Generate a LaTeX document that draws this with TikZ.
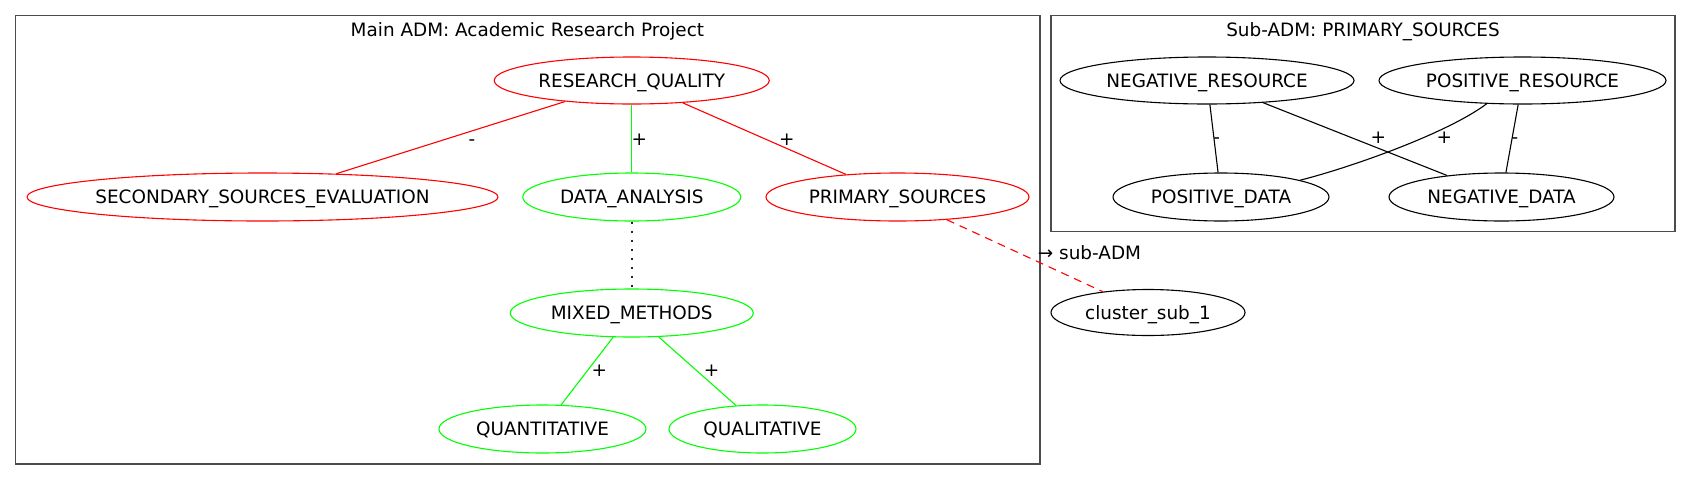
\documentclass[tikz,border=0pt]{standalone}
\usepackage{fontspec}
\setmainfont{DejaVu Sans}
\usetikzlibrary{shapes.geometric}
\definecolor{gvred}{RGB}{255,0,0}
\definecolor{gvgreen}{RGB}{0,255,0}
\newcommand{\gvfont}{\fontsize{18.4}{22}\selectfont}
\newcommand{\gvlbl}[1]{\makebox[0pt]{#1}}
\begin{document}
\begin{tikzpicture}[x=1pt,y=-1pt,
  every node/.style={font=\gvfont},
  gvnode/.style={ellipse, draw, line width=1.1pt, inner sep=0pt, text height=13.4pt, text depth=0pt, minimum height=48pt},
  rednode/.style={gvnode, draw=gvred},
  greennode/.style={gvnode, draw=gvgreen},
  blacknode/.style={gvnode, draw=black},
  edgered/.style={draw=gvred, line width=1.1pt},
  edgegreen/.style={draw=gvgreen, line width=1.1pt},
  edgeblack/.style={draw=black, line width=1.1pt},
  dotedge/.style={draw=black!85, line width=1.6pt, dash pattern=on 2pt off 7pt},
  dashedge/.style={draw=gvred, line width=1.1pt, dash pattern=on 8pt off 6pt},
  lbl/.style={inner sep=0pt, text height=13.4pt, text depth=0pt},
  cluster/.style={draw=black!70, line width=1.4pt},
  ctitle/.style={inner sep=0pt, anchor=base}
]
\useasboundingbox (0,0) rectangle (1692,480);
\fill[white] (0,0) rectangle (1692,480);

% clusters
\draw[cluster] (15.7,15.7) rectangle (1040,464);
\draw[cluster] (1051,15.7) rectangle (1675,231.7);
\node[ctitle] (tmain) at (527.4,36) {Main ADM: Academic Research Project};
\node[ctitle] (tsub) at (1363,36) {Sub-ADM: PRIMARY\_SOURCES};

% main nodes
\node[rednode, minimum width=275pt, minimum height=47pt] (rq) at (631.75,80.5) {\gvlbl{RESEARCH\_QUALITY}};
\node[rednode, minimum width=471pt] (sse) at (262.5,197) {\gvlbl{SECONDARY\_SOURCES\_EVALUATION}};
\node[greennode, minimum width=218pt] (da) at (631.75,197) {\gvlbl{DATA\_ANALYSIS}};
\node[rednode, minimum width=263pt] (ps) at (897.5,197) {\gvlbl{PRIMARY\_SOURCES}};
\node[greennode, minimum width=243pt] (mm) at (631.75,313) {\gvlbl{MIXED\_METHODS}};
\node[greennode, minimum width=207pt] (quant) at (542.5,429) {\gvlbl{QUANTITATIVE}};
\node[greennode, minimum width=187pt] (qual) at (762.5,429) {\gvlbl{QUALITATIVE}};

% sub nodes
\node[blacknode, minimum width=294pt, minimum height=47pt] (nr) at (1207,80.5) {\gvlbl{NEGATIVE\_RESOURCE}};
\node[blacknode, minimum width=287pt, minimum height=47pt] (pr) at (1522.5,80.5) {\gvlbl{POSITIVE\_RESOURCE}};
\node[blacknode, minimum width=216pt] (pd) at (1221,197) {\gvlbl{POSITIVE\_DATA}};
\node[blacknode, minimum width=225pt] (nd) at (1501.5,197) {\gvlbl{NEGATIVE\_DATA}};
\node[blacknode, minimum width=194pt, minimum height=46pt] (cs) at (1148,312.5) {\gvlbl{cluster\_sub\_1}};

% main edges
\draw[edgered] (rq) -- (sse);
\draw[edgegreen] (rq) -- (da);
\draw[edgered] (rq) -- (ps);
\draw[dotedge] (da) -- (mm);
\draw[edgegreen] (mm) -- (quant);
\draw[edgegreen] (mm) -- (qual);
\draw[dashedge] (ps) -- (cs);

% sub edges
\draw[edgeblack] (nr) -- (pd);
\draw[edgeblack] (nr) -- (nd);
\draw[edgeblack] (pr.213) .. controls +(-40,30) and +(48,-12) .. (pd.12.6);
\draw[edgeblack] (pr) -- (nd);

% edge labels
\node[lbl] (l1) at (472,138.3) {-};
\node[lbl] (l2) at (639.3,138.3) {+};
\node[lbl] (l3) at (786.7,138.3) {+};
\node[lbl] (l4) at (599.3,370) {+};
\node[lbl] (l5) at (711.7,370) {+};
\node[lbl] (l6) at (1216.7,136.7) {-};
\node[lbl] (l7) at (1378.3,136.7) {+};
\node[lbl] (l8) at (1444.3,136.7) {+};
\node[lbl] (l9) at (1515,136.7) {-};
\node[lbl] (l10) at (1089.5,253) {→ sub-ADM};
\end{tikzpicture}
\end{document}
